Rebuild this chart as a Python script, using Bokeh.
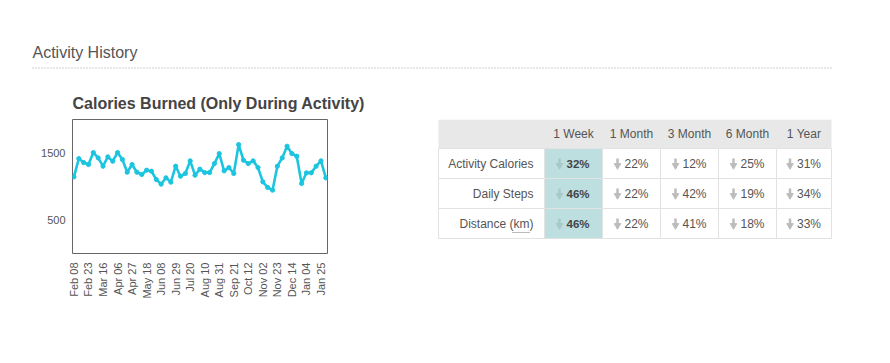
from math import pi
from bokeh.plotting import figure
from bokeh.layouts import column, row
from bokeh.models import Range1d, FixedTicker, ColumnDataSource
from bokeh.core.properties import value
from bokeh.embed import file_html
from bokeh.resources import INLINE

# ---------------- data ----------------
calories = [1140, 1411, 1352, 1323, 1500, 1421, 1298, 1436, 1372, 1500,
            1397, 1209, 1323, 1209, 1175, 1239, 1224, 1101, 1032, 1126,
            1062, 1298, 1150, 1190, 1377, 1165, 1254, 1204, 1204, 1337,
            1485, 1229, 1278, 1190, 1618, 1387, 1337, 1377, 1278, 1067,
            983, 943, 1298, 1421, 1594, 1485, 1446, 1042, 1200, 1200,
            1298, 1377, 1126]
tick_labels = ["Feb 08", "Feb 23", "Mar 16", "Apr 06", "Apr 27", "May 18",
               "Jun 08", "Jun 29", "Jul 20", "Aug 10", "Aug 31", "Sep 21",
               "Oct 12", "Nov 02", "Nov 23", "Dec 14", "Jan 04", "Jan 25"]
y_ticks = [500, 1500]

periods = ["1 Week", "1 Month", "3 Month", "6 Month", "1 Year"]
metrics = ["Activity Calories", "Daily Steps", "Distance (km)"]
activity_calories = [32, 22, 12, 25, 31]
daily_steps = [46, 22, 42, 19, 34]
distance_km = [46, 22, 41, 18, 33]
table_values = [activity_calories, daily_steps, distance_km]

FONT = "Liberation Sans"
TXT = "#555555"
CYAN = "#1cc5df"

HEADER_H = 72
FRAME_TOP_PAD = 47      # chart frame top at 119
FRAME_H = 134
ROW_H_TOTAL = 275
FRAME_BOTTOM_PAD = ROW_H_TOTAL - FRAME_TOP_PAD - FRAME_H

# ---------------- header ----------------
header = figure(width=874, height=HEADER_H, x_range=Range1d(0, 874), y_range=Range1d(HEADER_H, 0),
                output_backend="svg", toolbar_location=None, min_border=0,
                x_axis_type=None, y_axis_type=None, outline_line_color=None)
header.grid.visible = False
header.text(x=[32], y=[52], text=["Activity History"], text_font=value(FONT),
            text_font_size="16px", text_color=TXT, text_baseline="middle",
            text_align="left")
header.segment(x0=[32], y0=[67.5], x1=[832], y1=[67.5], line_color="#a0a0a0",
               line_width=1, line_dash="1 2")

# ---------------- chart ----------------
idx = list(range(len(calories)))
src = ColumnDataSource(dict(x=idx, y=calories))
chart = figure(width=400, height=ROW_H_TOTAL, x_range=Range1d(-0.3, 52.35), y_range=Range1d(5, 1990),
               output_backend="svg", toolbar_location=None,
               min_border_left=72, min_border_right=73,
               min_border_top=FRAME_TOP_PAD, min_border_bottom=FRAME_BOTTOM_PAD)
chart.title.text = "Calories Burned (Only During Activity)"
chart.title.align = "left"
chart.title.offset = 0
chart.title.standoff = 16
chart.title.text_font = FONT
chart.title.text_font_size = "16px"
chart.title.text_font_style = "bold"
chart.title.text_color = "#444444"
chart.grid.visible = False
chart.outline_line_color = "#666666"
chart.outline_line_width = 1

tick_pos = [3 * i for i in range(len(tick_labels))]
chart.xaxis.ticker = FixedTicker(ticks=tick_pos)
chart.xaxis.major_label_overrides = {p: l for p, l in zip(tick_pos, tick_labels)}
chart.xaxis.major_label_orientation = pi / 2
chart.xaxis.major_label_standoff = 9
chart.yaxis.ticker = FixedTicker(ticks=y_ticks)
chart.yaxis.major_label_standoff = 7
for ax in (chart.xaxis, chart.yaxis):
    ax.major_tick_line_color = None
    ax.minor_tick_line_color = None
    ax.major_tick_out = 0
    ax.major_tick_in = 0
    ax.axis_line_color = None
    ax.major_label_text_font = FONT
    ax.major_label_text_font_size = "11px"
    ax.major_label_text_color = TXT

chart.line("x", "y", source=src, line_color=CYAN, line_width=2.6)
chart.scatter("x", "y", source=src, size=4.2, color=CYAN)

# ---------------- table ----------------
frame_top = HEADER_H + FRAME_TOP_PAD
frame_bot = frame_top + FRAME_H
table = figure(width=474, height=ROW_H_TOTAL, x_range=Range1d(400, 874),
               y_range=Range1d(frame_bot, frame_top),
               output_backend="svg", toolbar_location=None,
               min_border_left=0, min_border_right=0,
               min_border_top=FRAME_TOP_PAD, min_border_bottom=FRAME_BOTTOM_PAD,
               x_axis_type=None, y_axis_type=None, outline_line_color=None)
table.grid.visible = False

col_widths = [106, 58, 58, 58, 58, 55]
left0 = 438
header_top, header_h, row_h = 119, 29, 30
edges = [left0]
for w in col_widths:
    edges.append(edges[-1] + w)
centers = [(edges[i] + edges[i + 1]) / 2 for i in range(len(col_widths))]

# header background
table.quad(left=[edges[0]], right=[edges[-1]], top=[header_top],
           bottom=[header_top + header_h], fill_color="#e8e8e8", line_color=None)
# data cells
ql, qr, qt, qb, qf = [], [], [], [], []
for r in range(len(metrics)):
    for c in range(len(col_widths)):
        ql.append(edges[c]); qr.append(edges[c + 1])
        qt.append(header_top + header_h + r * row_h)
        qb.append(header_top + header_h + (r + 1) * row_h)
        qf.append("#bddfe0" if c == 1 else "#ffffff")
table.quad(left=ql, right=qr, top=qt, bottom=qb, fill_color=qf, line_color="#e2e2e2")

# header text
table.text(x=centers[1:], y=[header_top + header_h / 2] * len(periods), text=periods,
           text_font=value(FONT), text_font_size="12px", text_color=TXT,
           text_align="center", text_baseline="middle")
row_y = [header_top + header_h + (r + 0.5) * row_h for r in range(len(metrics))]
table.text(x=[edges[1] - 11] * len(metrics), y=row_y, text=metrics,
           text_font=value(FONT), text_font_size="12px", text_color=TXT,
           text_align="right", text_baseline="middle")
# dotted underline of "km"
table.segment(x0=[edges[1] - 32], x1=[edges[1] - 14], y0=[row_y[2] + 9], y1=[row_y[2] + 9],
              line_color="#777777", line_width=1, line_dash="1 1")

# values + arrows
for c in range(len(periods)):
    cx = centers[c + 1]
    vals = [table_values[r][c] for r in range(len(metrics))]
    bold = (c == 0)
    table.text(x=[cx - 7] * len(vals), y=row_y, text=[f"{v}%" for v in vals],
               text_font=value(FONT), text_font_size="11.5px" if bold else "12px",
               text_font_style="bold" if bold else "normal",
               text_color="#444444" if bold else TXT,
               text_align="left", text_baseline="middle")
    acol = "#a9c8c9" if bold else "#bcbcbc"
    table.segment(x0=[cx - 14] * 3, x1=[cx - 14] * 3,
                  y0=[y - 5 for y in row_y], y1=[y + 1 for y in row_y],
                  line_color=acol, line_width=2.5)
    table.scatter(x=[cx - 14] * 3, y=[y + 2 for y in row_y], marker="inverted_triangle",
                  size=6.5, color=acol)

layout = column(header, row(chart, table, spacing=0), spacing=0)
open("out.html", "w").write(file_html(layout, INLINE))
